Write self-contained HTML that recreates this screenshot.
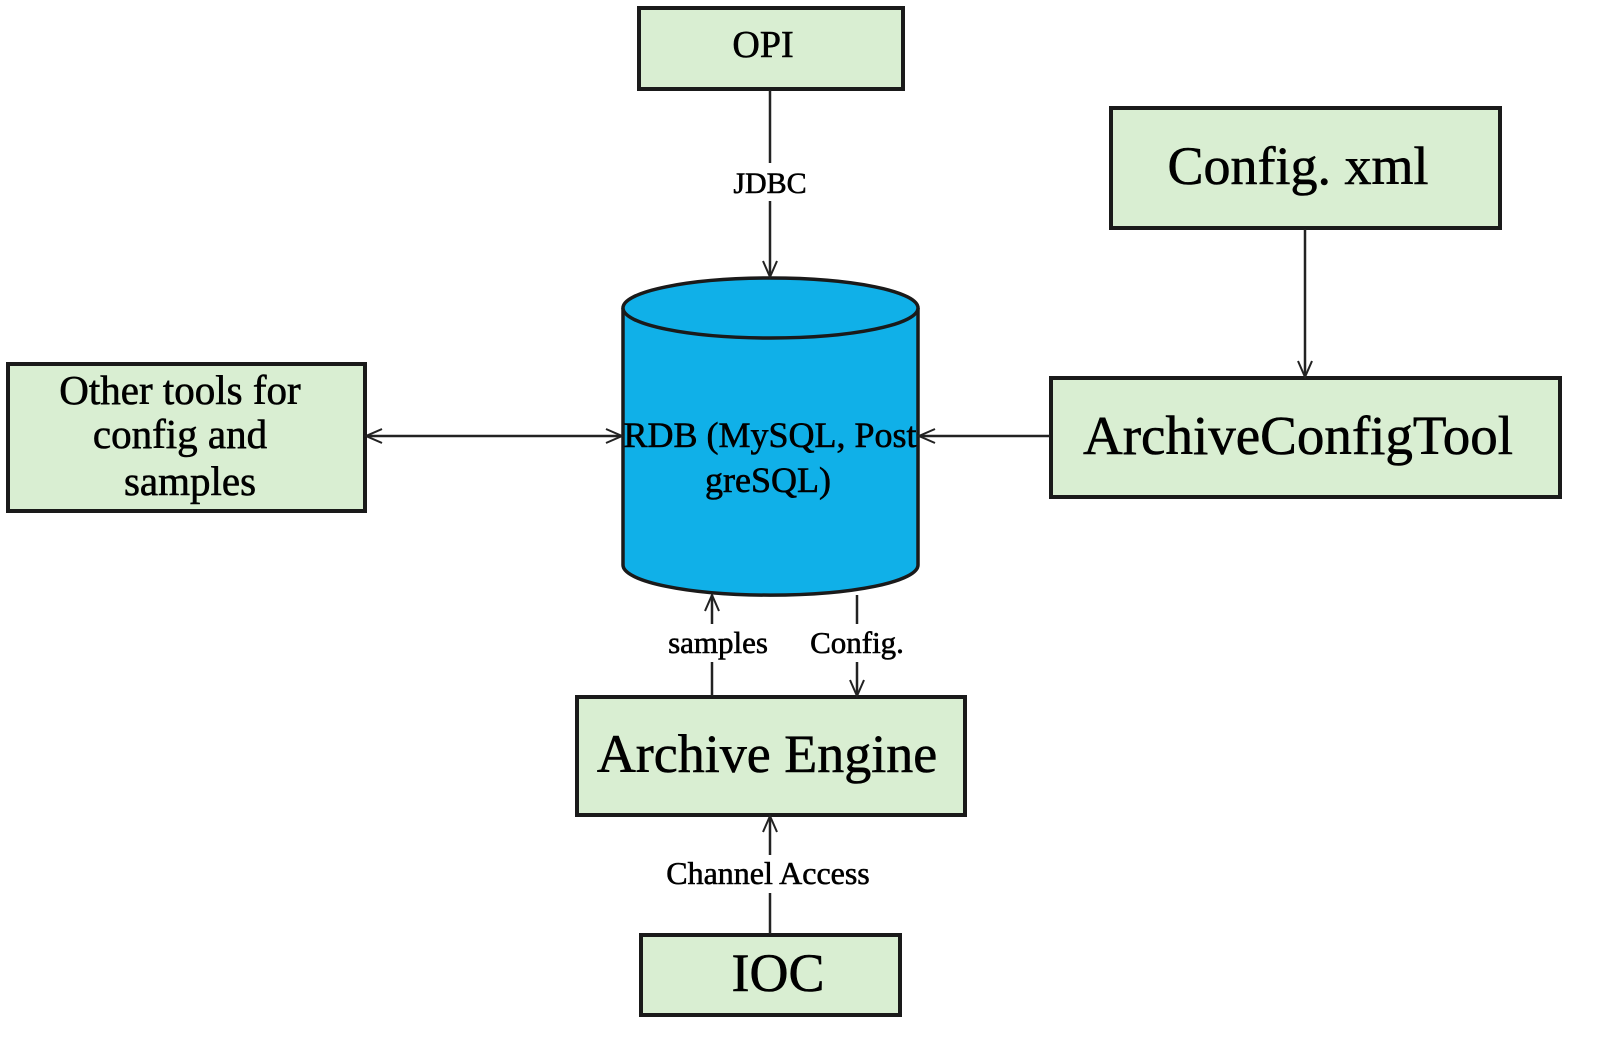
<!DOCTYPE html>
<html><head><meta charset="utf-8"><style>
html,body{margin:0;padding:0;background:#fff;}
svg{display:block;}
text{font-family:"Liberation Serif",serif;fill:#000;stroke:#000;stroke-width:0.6;}
</style></head><body>
<svg width="1600" height="1043" viewBox="0 0 1600 1043" xmlns="http://www.w3.org/2000/svg">
<defs>
<marker id="a" markerWidth="20" markerHeight="20" refX="18" refY="10" orient="auto-start-reverse" markerUnits="userSpaceOnUse">
<path d="M2,3 L18,10 L2,17" fill="none" stroke="#222" stroke-width="2"/>
</marker>
</defs>
<g fill="#d9eed2" stroke="#1a1a1a" stroke-width="4">
<rect x="639" y="8" width="264" height="81"/>
<rect x="1111" y="108" width="389" height="120"/>
<rect x="1051" y="378" width="509" height="119"/>
<rect x="8" y="364" width="357" height="147"/>
<rect x="577" y="697" width="388" height="118"/>
<rect x="641" y="935" width="259" height="80"/>
</g>
<path d="M623,308 L623,565 A147,30 0 0 0 918,565 L918,308" fill="#10b0e8" stroke="#1a1a1a" stroke-width="3.5"/>
<ellipse cx="770.5" cy="308" rx="147.5" ry="30" fill="#10b0e8" stroke="#1a1a1a" stroke-width="3.5"/>
<g stroke="#222" stroke-width="2.5" fill="none">
<line x1="770" y1="90" x2="770" y2="277" marker-end="url(#a)"/>
<line x1="1305" y1="229" x2="1305" y2="377" marker-end="url(#a)"/>
<line x1="1050" y1="436" x2="919" y2="436" marker-end="url(#a)"/>
<line x1="366" y1="436" x2="622" y2="436" marker-start="url(#a)" marker-end="url(#a)"/>
<line x1="712" y1="696" x2="712" y2="595" marker-end="url(#a)"/>
<line x1="857" y1="595" x2="857" y2="696" marker-end="url(#a)"/>
<line x1="770" y1="934" x2="770" y2="816" marker-end="url(#a)"/>
</g>
<rect x="726" y="163" width="88" height="38" fill="#fff"/>
<rect x="662" y="624" width="112" height="38" fill="#fff"/>
<rect x="804" y="624" width="106" height="38" fill="#fff"/>
<rect x="660" y="855" width="216" height="38" fill="#fff"/>
<g text-anchor="middle">
<text x="763" y="57" font-size="38">OPI</text>
<text x="1298" y="184" font-size="54">Config. xml</text>
<text x="1298" y="454" font-size="55">ArchiveConfigTool</text>
<text x="180" y="404" font-size="41">Other tools for</text>
<text x="180" y="448" font-size="41">config and</text>
<text x="190" y="495" font-size="41">samples</text>
<text x="770" y="447" font-size="36">RDB (MySQL, Post</text>
<text x="768" y="492" font-size="36">greSQL)</text>
<text x="767" y="772" font-size="54">Archive Engine</text>
<text x="778" y="991" font-size="54">IOC</text>
<text x="770" y="193" font-size="30">JDBC</text>
<text x="718" y="653" font-size="31">samples</text>
<text x="857" y="653" font-size="31">Config.</text>
<text x="768" y="884" font-size="32">Channel Access</text>
</g>
</svg>
</body></html>
